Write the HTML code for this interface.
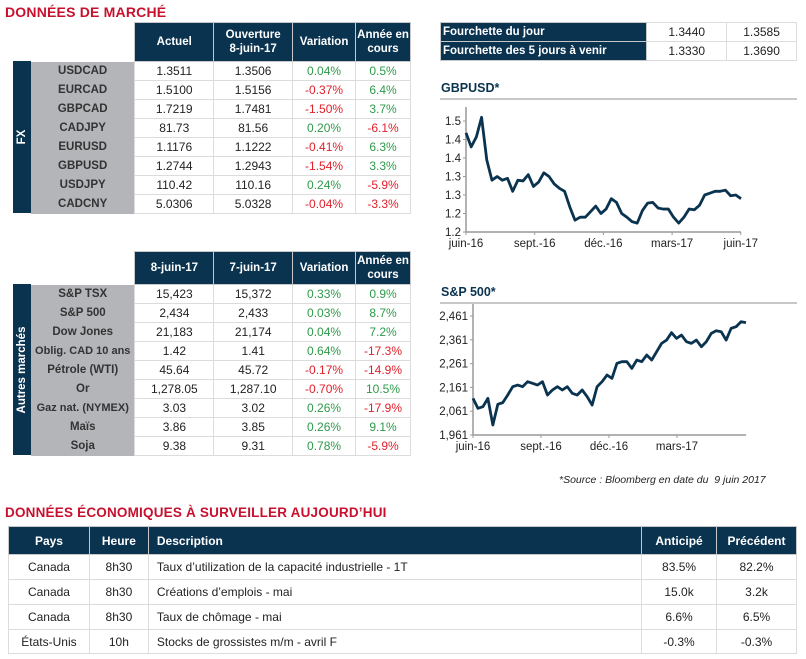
<!DOCTYPE html>
<html><head><meta charset="utf-8">
<style>
*{box-sizing:border-box;margin:0;padding:0}
body{width:806px;height:659px;background:#fff;position:relative;font-family:"Liberation Sans",sans-serif;overflow:hidden;color:#222}
.abs{position:absolute}
.title{color:#c8102e;font-weight:bold;font-size:14px;letter-spacing:0.2px}
table{border-collapse:collapse;position:absolute;font-size:12px}
td,th{text-align:center;padding:0;border:1px solid #dcdcdc}
th{background:#0a3350;color:#fff;font-weight:bold;border:1px solid #c8c8c8;line-height:14px;font-size:11.5px}
td.lab{background:#b3b5b8;color:#333;font-weight:bold;border:none;font-size:11.5px;white-space:nowrap}
.g{color:#2e9a4a}.r{color:#e0202a}
.strip{position:absolute;background:#0a3350;color:#fff;font-weight:bold;font-size:11.5px;width:18px}
.strip span{position:absolute;left:50%;top:50%;transform:translate(-50%,-50%) rotate(-90deg);white-space:nowrap}
.ctitle{color:#0a3350;font-weight:bold;font-size:12.5px}
.hr{position:absolute;height:2px;background:#c8c8c8}
</style></head><body>
<div class="abs title" style="left:5px;top:4px">DONNÉES DE MARCHÉ</div>

<div class="strip" style="left:13px;top:61px;height:152px"><span>FX</span></div>
<table style="left:31px;top:22px;width:380px">
<colgroup><col style="width:104px"><col style="width:79px"><col style="width:79px"><col style="width:63px"><col style="width:55px"></colgroup>
<tr style="height:39px"><td style="border:none"></td><th>Actuel</th><th>Ouverture<br>8-juin-17</th><th>Variation</th><th>Année en<br>cours</th></tr>
<tr style="height:19px"><td class="lab">USDCAD</td><td>1.3511</td><td>1.3506</td><td class="g">0.04%</td><td class="g">0.5%</td></tr>
<tr style="height:19px"><td class="lab">EURCAD</td><td>1.5100</td><td>1.5156</td><td class="r">-0.37%</td><td class="g">6.4%</td></tr>
<tr style="height:19px"><td class="lab">GBPCAD</td><td>1.7219</td><td>1.7481</td><td class="r">-1.50%</td><td class="g">3.7%</td></tr>
<tr style="height:19px"><td class="lab">CADJPY</td><td>81.73</td><td>81.56</td><td class="g">0.20%</td><td class="r">-6.1%</td></tr>
<tr style="height:19px"><td class="lab">EURUSD</td><td>1.1176</td><td>1.1222</td><td class="r">-0.41%</td><td class="g">6.3%</td></tr>
<tr style="height:19px"><td class="lab">GBPUSD</td><td>1.2744</td><td>1.2943</td><td class="r">-1.54%</td><td class="g">3.3%</td></tr>
<tr style="height:19px"><td class="lab">USDJPY</td><td>110.42</td><td>110.16</td><td class="g">0.24%</td><td class="r">-5.9%</td></tr>
<tr style="height:19px"><td class="lab">CADCNY</td><td>5.0306</td><td>5.0328</td><td class="r">-0.04%</td><td class="r">-3.3%</td></tr>
</table>

<div class="strip" style="left:13px;top:284px;height:171px"><span>Autres marchés</span></div>
<table style="left:31px;top:251px;width:380px">
<colgroup><col style="width:104px"><col style="width:79px"><col style="width:79px"><col style="width:63px"><col style="width:55px"></colgroup>
<tr style="height:33px"><td style="border:none"></td><th>8-juin-17</th><th>7-juin-17</th><th>Variation</th><th>Année en<br>cours</th></tr>
<tr style="height:19px"><td class="lab">S&amp;P TSX</td><td>15,423</td><td>15,372</td><td class="g">0.33%</td><td class="g">0.9%</td></tr>
<tr style="height:19px"><td class="lab">S&amp;P 500</td><td>2,434</td><td>2,433</td><td class="g">0.03%</td><td class="g">8.7%</td></tr>
<tr style="height:19px"><td class="lab">Dow Jones</td><td>21,183</td><td>21,174</td><td class="g">0.04%</td><td class="g">7.2%</td></tr>
<tr style="height:19px"><td class="lab" style="font-size:11px">Oblig. CAD 10 ans</td><td>1.42</td><td>1.41</td><td class="g">0.64%</td><td class="r">-17.3%</td></tr>
<tr style="height:19px"><td class="lab">Pétrole (WTI)</td><td>45.64</td><td>45.72</td><td class="r">-0.17%</td><td class="r">-14.9%</td></tr>
<tr style="height:19px"><td class="lab">Or</td><td>1,278.05</td><td>1,287.10</td><td class="r">-0.70%</td><td class="g">10.5%</td></tr>
<tr style="height:19px"><td class="lab" style="font-size:11px">Gaz nat. (NYMEX)</td><td>3.03</td><td>3.02</td><td class="g">0.26%</td><td class="r">-17.9%</td></tr>
<tr style="height:19px"><td class="lab">Maïs</td><td>3.86</td><td>3.85</td><td class="g">0.26%</td><td class="g">9.1%</td></tr>
<tr style="height:19px"><td class="lab">Soja</td><td>9.38</td><td>9.31</td><td class="g">0.78%</td><td class="r">-5.9%</td></tr>
</table>

<table style="left:440px;top:22px;width:357px">
<colgroup><col style="width:207px"><col style="width:80px"><col style="width:70px"></colgroup>
<tr style="height:19px"><th style="text-align:left;padding-left:2px">Fourchette du jour</th><td>1.3440</td><td>1.3585</td></tr>
<tr style="height:19px"><th style="text-align:left;padding-left:2px">Fourchette des 5 jours à venir</th><td>1.3330</td><td>1.3690</td></tr>
</table>

<div class="abs ctitle" style="left:441px;top:81px">GBPUSD*</div>
<div class="hr" style="left:440px;top:98px;width:357px"></div>
<svg id="c1" class="abs" style="left:420px;top:100px" width="386" height="155"></svg>

<div class="abs ctitle" style="left:441px;top:285px">S&amp;P 500*</div>
<div class="hr" style="left:440px;top:302px;width:357px"></div>
<svg id="c2" class="abs" style="left:420px;top:304px" width="386" height="155"></svg>

<div class="abs" style="left:559px;top:474px;font-size:10.5px;font-style:italic;color:#222">*Source : Bloomberg en date du&nbsp; 9 juin 2017</div>

<div class="abs title" style="left:5px;top:505px;font-size:13.5px">DONNÉES ÉCONOMIQUES À SURVEILLER AUJOURD’HUI</div>
<table style="left:8px;top:526px;width:789px;font-size:12px">
<colgroup><col style="width:81px"><col style="width:59px"><col style="width:494px"><col style="width:75px"><col style="width:80px"></colgroup>
<tr style="height:28px"><th style="font-size:12px">Pays</th><th style="font-size:12px">Heure</th><th style="text-align:left;padding-left:8px;font-size:12px">Description</th><th style="font-size:12px">Anticipé</th><th style="font-size:12px">Précédent</th></tr>
<tr style="height:25px"><td>Canada</td><td>8h30</td><td style="text-align:left;padding-left:8px">Taux d’utilization de la capacité industrielle - 1T</td><td>83.5%</td><td>82.2%</td></tr>
<tr style="height:25px"><td>Canada</td><td>8h30</td><td style="text-align:left;padding-left:8px">Créations d’emplois - mai</td><td>15.0k</td><td>3.2k</td></tr>
<tr style="height:25px"><td>Canada</td><td>8h30</td><td style="text-align:left;padding-left:8px">Taux de chômage - mai</td><td>6.6%</td><td>6.5%</td></tr>
<tr style="height:24px"><td>États-Unis</td><td>10h</td><td style="text-align:left;padding-left:8px">Stocks de grossistes m/m - avril F</td><td>-0.3%</td><td>-0.3%</td></tr>
</table>

<script>
const gbpValues=[1.468,1.43,1.457,1.51,1.395,1.34,1.35,1.34,1.345,1.31,1.34,1.338,1.355,1.323,1.335,1.36,1.35,1.33,1.318,1.31,1.268,1.232,1.24,1.24,1.255,1.27,1.25,1.262,1.29,1.28,1.25,1.24,1.228,1.224,1.258,1.278,1.28,1.265,1.262,1.262,1.24,1.224,1.24,1.262,1.26,1.272,1.30,1.305,1.31,1.31,1.313,1.298,1.30,1.29];
const gbpTicks=[1.2,1.25,1.3,1.35,1.4,1.45,1.5];
const gbpTickLabels=["1.2","1.2","1.3","1.3","1.4","1.4","1.5"];
const gbpXLabels=["juin-16","sept.-16","déc.-16","mars-17","juin-17"];
const spValues=[2115,2073,2080,2115,2003,2090,2097,2129,2164,2171,2164,2185,2178,2171,2185,2129,2150,2164,2150,2164,2136,2129,2150,2122,2087,2164,2185,2213,2199,2262,2269,2269,2241,2276,2269,2297,2276,2311,2346,2360,2391,2367,2381,2353,2346,2360,2332,2353,2388,2399,2395,2360,2409,2416,2437,2433];
const spTicks=[1961,2061,2161,2261,2361,2461];
const spTickLabels=["1,961","2,061","2,161","2,261","2,361","2,461"];
const spXLabels=["juin-16","sept.-16","déc.-16","mars-17"];
const NS="http://www.w3.org/2000/svg";
function mk(svg,tag,attrs){const e=document.createElementNS(NS,tag);for(const k in attrs)e.setAttribute(k,attrs[k]);svg.appendChild(e);return e;}
function chart(id,vals,ticks,tlabels,xlabels,cfg){
  const svg=document.getElementById(id);
  const y=v=>cfg.y0-(v-cfg.vmin)/(cfg.vmax-cfg.vmin)*(cfg.y0-cfg.y1);
  const x=i=>cfg.x0+i/(vals.length-1)*(cfg.xEnd-cfg.x0);
  let ax=mk(svg,'line',{x1:cfg.x0,y1:cfg.y1-14,x2:cfg.x0,y2:cfg.y0,stroke:'#999','stroke-width':1.5});
  
  
  let bx=mk(svg,'line',{x1:cfg.x0,y1:cfg.y0,x2:cfg.axEnd,y2:cfg.y0,stroke:'#999','stroke-width':1.5});
  
  
  ticks.forEach((t,i)=>{
    mk(svg,'line',{x1:cfg.x0-3,y1:y(t),x2:cfg.x0,y2:y(t),stroke:'#999'});
    const tx=mk(svg,'text',{x:cfg.x0-5,y:y(t)+4,'text-anchor':'end','font-size':11.5,fill:'#222','font-family':'Liberation Sans, sans-serif'});
    tx.textContent=tlabels[i];
    
    
  });
  xlabels.forEach((l,i)=>{
    const xx=cfg.x0+i*cfg.xStep;
    mk(svg,'line',{x1:xx,y1:cfg.y0,x2:xx,y2:cfg.y0+3,stroke:'#999'});
    const tx=mk(svg,'text',{x:xx,y:cfg.y0+15,'text-anchor':'middle','font-size':11.5,fill:'#222','font-family':'Liberation Sans, sans-serif'});
    tx.textContent=l;
    
    
  });
  const p=mk(svg,'polyline',{points:vals.map((v,i)=>x(i)+','+y(v)).join(' '),fill:'none',stroke:'#0a3350','stroke-width':2.8,'stroke-linejoin':'round'});
  
  
}
chart('c1',gbpValues,gbpTicks,gbpTickLabels,gbpXLabels,{x0:46,xEnd:321,axEnd:321,y0:132,y1:21,vmin:1.2,vmax:1.5,xStep:68.7});
chart('c2',spValues,spTicks,spTickLabels,spXLabels,{x0:53,xEnd:326,axEnd:326,y0:131,y1:12,vmin:1961,vmax:2461,xStep:68});
</script>
</body></html>
